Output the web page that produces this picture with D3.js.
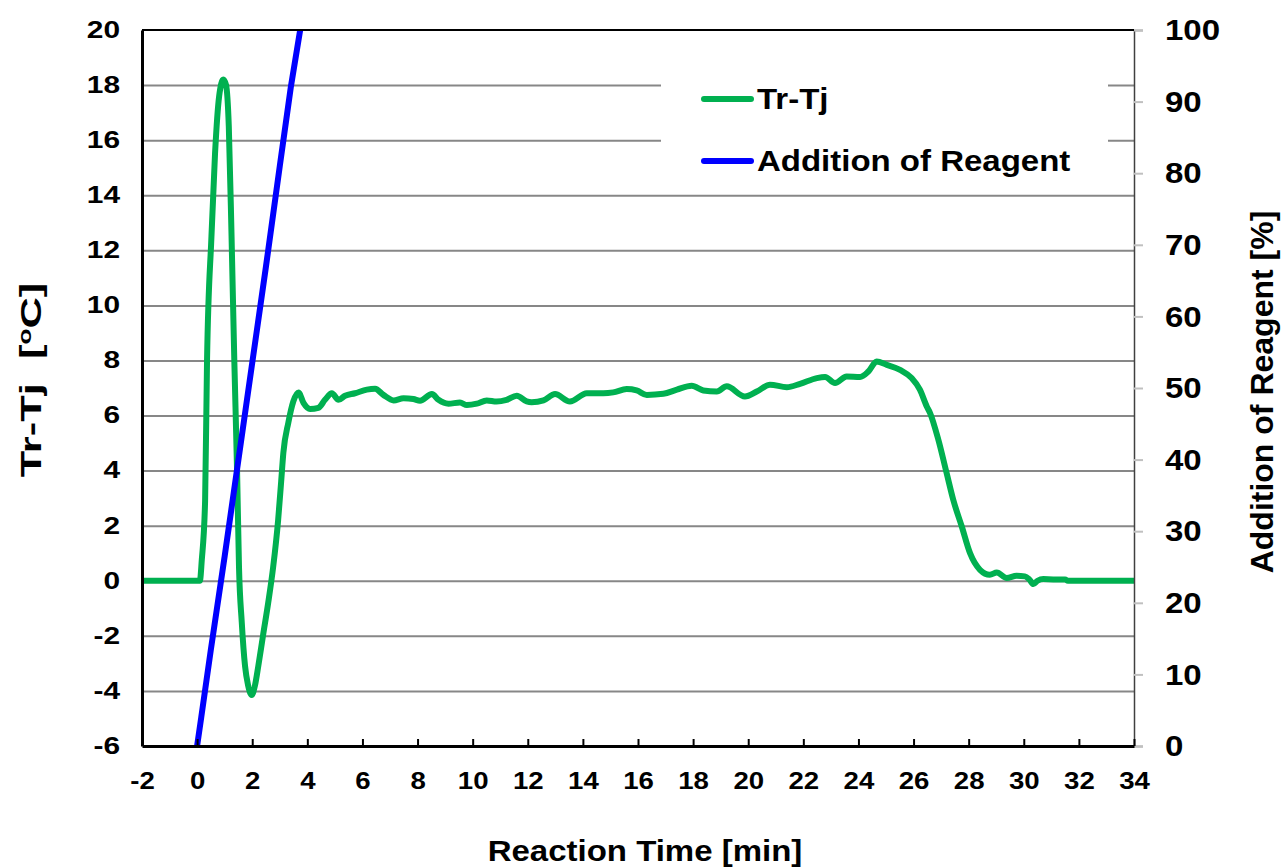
<!DOCTYPE html>
<html>
<head>
<meta charset="utf-8">
<script src="https://cdn.jsdelivr.net/npm/d3@7"></script>
<style>
  body { margin: 0; background: #fff; }
  text { font-family: "Liberation Sans", Arial, sans-serif; font-weight: bold; fill: #000; }
</style>
</head>
<body>
<script>
// Tr-Tj curve, time [min] and temperature difference [oC]
const trTime = [-2, 0.1, 0.17, 0.29, 0.36, 0.52, 0.65, 0.8, 0.95, 1.05, 1.15, 1.25, 1.35, 1.45, 1.52,
  1.62, 1.74, 1.85, 1.98, 2.1, 2.22, 2.39, 2.58, 2.76, 2.94, 3.05, 3.13, 3.31, 3.49, 3.68,
  3.86, 4.1, 4.4, 4.64, 4.89, 5.13, 5.37, 5.73, 6.16, 6.46, 6.76, 7.13, 7.49, 7.85, 8.09,
  8.52, 8.76, 9.12, 9.54, 9.79, 10.15, 10.51, 10.87, 11.23, 11.6, 11.96, 12.14, 12.57, 12.99,
  13.53, 14.14, 14.74, 15.1, 15.59, 15.95, 16.32, 16.92, 17.41, 17.95, 18.37, 18.86, 19.22,
  19.88, 20.31, 20.79, 21.4, 21.88, 22.49, 22.79, 23.15, 23.57, 24.06, 24.36, 24.66, 25.03,
  25.51, 25.93, 26.23, 26.48, 26.6, 26.9, 27.2, 27.44, 27.75, 28.05, 28.41, 28.77, 29.02,
  29.38, 29.74, 30.04, 30.2, 30.35, 30.5, 30.71, 31.07, 31.5, 31.6, 34]
const trTj = [0, 0, 0.76, 2.9, 8, 12.5, 15.5, 17.6, 18.2, 18.0, 16.5, 12.5, 8, 4, 0.5,
  -1.5, -3.1, -3.8, -4.15, -3.8, -3.1, -2.0, -0.8, 0.5, 2.2, 3.6, 4.65, 5.74, 6.51, 6.84,
  6.46, 6.24, 6.28, 6.57, 6.81, 6.57, 6.72, 6.81, 6.94, 6.97, 6.75, 6.55, 6.63, 6.6, 6.54,
  6.78, 6.57, 6.43, 6.47, 6.38, 6.43, 6.55, 6.51, 6.57, 6.72, 6.51, 6.48, 6.55, 6.78,
  6.51, 6.81, 6.81, 6.84, 6.96, 6.91, 6.75, 6.79, 6.94, 7.08, 6.91, 6.87, 7.06,
  6.69, 6.87, 7.12, 7.03, 7.15, 7.36, 7.4, 7.18, 7.42, 7.4, 7.6, 7.96, 7.84,
  7.66, 7.36, 6.94, 6.33, 6.09, 5.12, 3.91, 2.94, 1.97, 1.0, 0.4, 0.22, 0.3,
  0.1, 0.18, 0.16, 0.05, -0.12, 0.0, 0.06, 0.05, 0.05, 0, 0]

// addition of reagent, time [min] and percent
const addTime = [0, 0.15, 0.5, 1.0, 1.5, 2.0, 2.5, 3.0, 3.4, 3.74]
const addPct = [0, 4, 13.5, 26.5, 40, 53.5, 67, 81, 92, 100]

const xTicks = d3.range(-2, 35, 2)
const yTicks = d3.range(-6, 21, 2)
const y2Ticks = d3.range(0, 101, 10)

const margin = {top: 30, right: 149, bottom: 121, left: 142},
    width = 1283 - margin.left - margin.right,
    height = 867 - margin.top - margin.bottom;

const svg = d3.select("body").append("svg")
    .attr("width", 1283)
    .attr("height", 867)

const g = svg.append("g")
    .attr("transform", `translate(${margin.left},${margin.top})`)

const x = d3.scaleLinear().domain([-2, 34]).range([0, width])
const y = d3.scaleLinear().domain([-6, 20]).range([height, 0])
const y2 = d3.scaleLinear().domain([0, 100]).range([height, 0])

// the picture's text is wider than the fonts, stretch it
const sx = 1.1
function stretch(sel, k) {
    sel.each(function () {
        const t = d3.select(this)
        t.attr("x", (+t.attr("x") || 0) / k).attr("transform", `scale(${k},1)`)
    })
}
// plain hyphen for negatives, like the original
const plain = d => String(d)

// grid lines
const grid = g.append("g")
    .call(d3.axisLeft(y).tickValues(d3.range(-4, 20, 2)).tickSize(-width).tickFormat(""))
grid.select(".domain").remove()
grid.selectAll("line").attr("stroke", "#878787").attr("stroke-width", 2)

// legend box hides the grid behind it
g.append("rect")
    .attr("x", 661 - margin.left).attr("y", 58 - margin.top)
    .attr("width", 447).attr("height", 130)
    .attr("fill", "#fff")

g.append("clipPath").attr("id", "plot")
    .append("rect").attr("width", width).attr("height", height)

const plot = g.append("g").attr("clip-path", "url(#plot)")

const trLine = d3.line()
    .x((d, i) => x(trTime[i]))
    .y(d => y(d))
    .curve(d3.curveMonotoneX)

const addLine = d3.line()
    .x((d, i) => x(addTime[i]))
    .y(d => y2(d))

plot.append("path")
    .datum(trTj)
    .attr("d", trLine)
    .attr("fill", "none")
    .attr("stroke", "#00b050")
    .attr("stroke-width", 6)
    .attr("stroke-linejoin", "round")

plot.append("path")
    .datum(addPct)
    .attr("d", addLine)
    .attr("fill", "none")
    .attr("stroke", "#0000ff")
    .attr("stroke-width", 6)
    .attr("stroke-linejoin", "round")

// right axis
const yRight = g.append("g")
    .attr("transform", `translate(${width},0)`)
    .call(d3.axisRight(y2).tickValues(y2Ticks).tickSize(9).tickPadding(22))
yRight.select(".domain").attr("stroke", "#404040").attr("stroke-width", 1.5)
yRight.selectAll("line").attr("stroke", "#c0c0c0").attr("stroke-width", 2)
yRight.selectAll("text").style("font-size", "30px").attr("font-family", null)
stretch(yRight.selectAll("text"), sx)

// left axis
const yLeft = g.append("g")
    .call(d3.axisLeft(y).tickValues(yTicks).tickFormat(plain).tickSize(0).tickPadding(22).tickSizeOuter(0))
yLeft.select(".domain").attr("stroke", "#000").attr("stroke-width", 3)
yLeft.selectAll("text").style("font-size", "23px").attr("font-family", null)
stretch(yLeft.selectAll("text"), 1.3)

// bottom axis, ticks point inwards
const xAxis = g.append("g")
    .attr("transform", `translate(0,${height})`)
    .call(d3.axisBottom(x).tickValues(xTicks).tickFormat(plain).tickSizeInner(-7).tickSizeOuter(0).tickPadding(28))
xAxis.select(".domain").attr("stroke", "#000").attr("stroke-width", 3)
xAxis.selectAll("line").attr("stroke", "#000").attr("stroke-width", 2)
xAxis.selectAll("text").style("font-size", "23px").attr("font-family", null).attr("y", 27)
stretch(xAxis.selectAll("text"), 1.2)

// top border
g.append("line")
    .attr("x1", 0).attr("x2", width)
    .attr("y1", 0).attr("y2", 0)
    .attr("stroke", "#000").attr("stroke-width", 2)

// legend
const legend = [
    {name: "Tr-Tj", color: "#00b050", y: 99},
    {name: "Addition of Reagent", color: "#0000ff", y: 161}
]
legend.forEach(d => {
    svg.append("line")
        .attr("x1", 704).attr("x2", 751)
        .attr("y1", d.y).attr("y2", d.y)
        .attr("stroke", d.color).attr("stroke-width", 6)
        .attr("stroke-linecap", "round")
    svg.append("text")
        .attr("transform", `translate(757,${d.y + 10}) scale(${sx},1)`)
        .style("font-size", "30px")
        .text(d.name)
})

// axis titles
svg.append("text")
    .attr("transform", `translate(645,861) scale(${sx},1)`)
    .attr("text-anchor", "middle")
    .style("font-size", "30px")
    .text("Reaction Time [min]")

const leftTitle = svg.append("text")
    .attr("transform", `translate(41,380) rotate(-90) scale(1.45,1)`)
    .attr("text-anchor", "middle")
    .style("font-size", "30px")
leftTitle.append("tspan").text("Tr-Tj\u00a0 [")
leftTitle.append("tspan").attr("baseline-shift", "super").style("font-size", "18px").text("o")
leftTitle.append("tspan").text("C]")

svg.append("text")
    .attr("transform", `translate(1273,392) rotate(-90)`)
    .attr("text-anchor", "middle")
    .style("font-size", "32px")
    .text("Addition of Reagent [%]")
</script>
</body>
</html>
